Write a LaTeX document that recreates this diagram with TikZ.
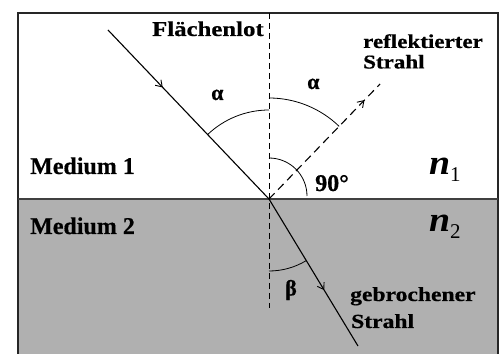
\documentclass[tikz,border=0pt]{standalone}
\usepackage{fontspec}
\setmainfont{Liberation Serif}[BoldFeatures={FakeBold=0.6}]
\usepackage{graphicx}
\usetikzlibrary{arrows.meta,decorations.markings}
\definecolor{medgray}{RGB}{176,176,176}
\tikzset{
  lbl/.style={inner sep=0pt,anchor=base west,font=\bfseries},
  twoline/.style={inner sep=0pt,anchor=north west,align=left},
  ray/.style={line width=1.1pt,black},
  arcline/.style={line width=0.8pt,black},
  midarrow/.style={postaction={decorate},decoration={markings,mark=at position #1 with {\arrow{Straight Barb[length=6pt,width=8pt,line width=0.9pt]}}}},
}
\newcommand{\wide}[1]{\scalebox{1.18}[1]{#1}}
\begin{document}
\begin{tikzpicture}[x=1pt,y=1pt]
\useasboundingbox (0,0) rectangle (499,354);
% media
\fill[white] (18,155) rectangle (498,341);
\fill[medgray] (18,-5) rectangle (498,155);
\draw[line width=1.3pt,black!85] (18,-5) -- (18,341) -- (498,341) -- (498,-5);
\draw[line width=1.1pt,black!75] (18,155) -- (498,155);
% coordinates
\coordinate (O) at (269,155);
\coordinate (inc) at (108,324);
\coordinate (refl) at (380,270);
\coordinate (refr) at (358,8);
\coordinate (lottop) at (269,341);
\coordinate (lotbot) at (269,46);
% normal
\draw[line width=0.8pt,dash pattern=on 6pt off 4pt] (lottop) -- (lotbot);
% rays
\draw[ray,midarrow=0.34] (inc) -- (O);
\draw[ray,dash pattern=on 8pt off 5pt,midarrow=0.86] (O) -- (refl);
\draw[ray,midarrow=0.62] (O) -- (refr);
% arcs
\draw[arcline] ([shift={(133.6:89)}]O) arc[start angle=133.6,end angle=90,radius=89];
\draw[arcline] ([shift={(90:101)}]O) arc[start angle=90,end angle=46,radius=101];
\draw[arcline] ([shift={(90:41)}]O) arc[start angle=90,end angle=0,radius=38];
\draw[arcline] ([shift={(270:72)}]O) arc[start angle=270,end angle=301.2,radius=72];
% labels
\node[lbl,font=\bfseries\fontsize{21}{21}\selectfont] (lot) at (152,318) {\wide{Flächenlot}};
\node[twoline,font=\bfseries\fontsize{19.5}{20.5}\selectfont] (refltxt) at (363,320) {\wide{reflektierter}\\\wide{Strahl}};
\node[lbl,font=\bfseries\fontsize{24}{24}\selectfont] (m1) at (30,180) {Medium 1};
\node[lbl,font=\bfseries\fontsize{24}{24}\selectfont] (m2) at (30,120) {Medium 2};
\node[lbl,font=\bfseries\fontsize{24}{24}\selectfont] (ninety) at (315,163) {90°};
\node[lbl,font=\bfseries\fontsize{22}{22}\selectfont] (a1) at (211,254) {α};
\node[lbl,font=\bfseries\fontsize{22}{22}\selectfont] (a2) at (307,265) {α};
\node[inner sep=0pt,font=\bfseries\fontsize{22}{22}\selectfont] (b) at (291,64) {β};
\node[lbl,font=\bfseries\fontsize{20}{20}\selectfont] (g1) at (350,53) {\wide{gebrochener}};
\node[lbl,font=\bfseries\fontsize{20}{20}\selectfont] (g2) at (351,26) {\wide{Strahl}};
\node[lbl,font=\bfseries\itshape\fontsize{35}{35}\selectfont] (n1) at (429,179) {\scalebox{1.08}[1]{n}\raisebox{-7pt}{\normalfont\fontsize{21}{21}\selectfont 1}};
\node[lbl,font=\bfseries\itshape\fontsize{35}{35}\selectfont] (n2) at (429,122) {\scalebox{1.08}[1]{n}\raisebox{-7pt}{\normalfont\fontsize{21}{21}\selectfont 2}};
\end{tikzpicture}
\end{document}
